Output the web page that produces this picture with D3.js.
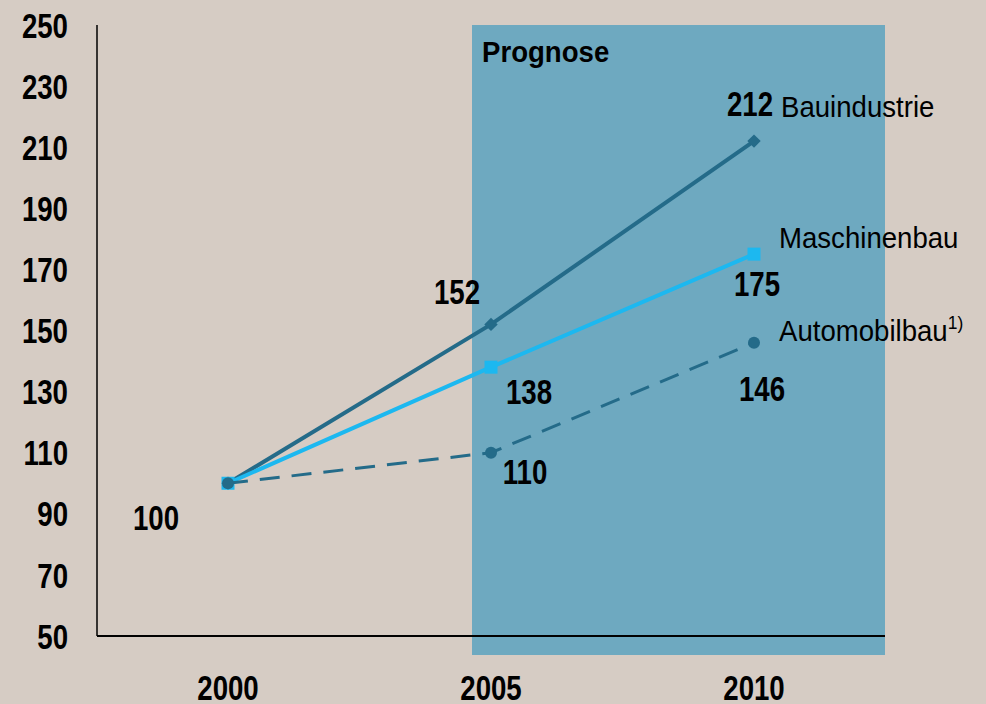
<!DOCTYPE html>
<html>
<head>
<meta charset="utf-8">
<script src="https://cdn.jsdelivr.net/npm/d3@7"></script>
<style>
  body { margin: 0; background: #d6ccc4; }
  svg { display: block; }
  .num { font-family: "Liberation Sans", Arial, sans-serif; font-weight: bold; font-size: 35px; fill: #000; }
  .lbl { font-family: "Liberation Sans", Arial, sans-serif; font-size: 30px; fill: #000; }
</style>
</head>
<body>
<div id="chart"></div>
<script>
// data
var years = [2000, 2005, 2010];
var yTicks = [50, 70, 90, 110, 130, 150, 170, 190, 210, 230, 250];
var bauindustrie = [100, 152, 212];
var maschinenbau = [100, 138, 175];
var automobilbau = [100, 110, 146];
var prognoseRange = [2005, 2010];

var svgWidth = 986;
var svgHeight = 704;

// the original uses a narrow font, so squeeze the text horizontally
var numSqueeze = 0.79;
var lblSqueeze = 0.92;

var svg = d3.select("#chart")
  .append("svg")
  .attr("width", svgWidth)
  .attr("height", svgHeight);

svg.append("rect")
  .attr("width", svgWidth)
  .attr("height", svgHeight)
  .attr("fill", "#d6ccc4");

// scales
var xScale = d3.scaleLinear()
  .domain([2000, 2010])
  .range([228, 754]);

var yScale = d3.scaleLinear()
  .domain([50, 250])
  .range([636, 25]);

var axisLeftX = 97;
var axisRightX = 885;

function placeText(sel, x, y, k) {
  return sel.attr("transform", `translate(${x},${y}) scale(${k},1)`);
}

// forecast shaded area
svg.append("rect")
  .attr("x", xScale(prognoseRange[0]) - 19)
  .attr("y", yScale(250))
  .attr("width", axisRightX - (xScale(prognoseRange[0]) - 19))
  .attr("height", 655 - yScale(250))
  .attr("fill", "#6ea9c0");

placeText(svg.append("text")
  .attr("font-family", "Liberation Sans, Arial, sans-serif")
  .attr("font-weight", "bold")
  .attr("font-size", 30)
  .text("Prognose"), 482, 62, lblSqueeze);

// axes lines
svg.append("line")
  .attr("x1", axisLeftX).attr("x2", axisLeftX)
  .attr("y1", yScale(250)).attr("y2", yScale(50))
  .attr("stroke", "#000").attr("stroke-width", 1.5);

svg.append("line")
  .attr("x1", axisLeftX).attr("x2", axisRightX)
  .attr("y1", yScale(50)).attr("y2", yScale(50))
  .attr("stroke", "#000").attr("stroke-width", 2);

// y tick labels
svg.selectAll(".ytick")
  .data(yTicks)
  .enter()
  .append("text")
  .attr("class", "num")
  .attr("transform", d => `translate(68,${yScale(d)}) scale(${numSqueeze},1)`)
  .attr("dy", "0.36em")
  .attr("text-anchor", "end")
  .text(d => d);

// x tick labels
svg.selectAll(".xtick")
  .data(years)
  .enter()
  .append("text")
  .attr("class", "num")
  .attr("transform", d => `translate(${xScale(d)},700) scale(${numSqueeze},1)`)
  .attr("text-anchor", "middle")
  .text(d => d);

var line = d3.line()
  .x((d, i) => xScale(years[i]))
  .y(d => yScale(d));

// Bauindustrie
svg.append("path")
  .attr("d", line(bauindustrie))
  .attr("fill", "none")
  .attr("stroke", "#246b89")
  .attr("stroke-width", 4);

svg.selectAll(".bau")
  .data(bauindustrie)
  .enter()
  .append("path")
  .attr("d", d3.symbol().type(d3.symbolSquare).size(90))
  .attr("transform", (d, i) => `translate(${xScale(years[i])},${yScale(d)}) rotate(45)`)
  .attr("fill", "#246b89");

// Maschinenbau
svg.append("path")
  .attr("d", line(maschinenbau))
  .attr("fill", "none")
  .attr("stroke", "#1cb8f0")
  .attr("stroke-width", 4);

svg.selectAll(".masch")
  .data(maschinenbau)
  .enter()
  .append("rect")
  .attr("x", (d, i) => xScale(years[i]) - 6.5)
  .attr("y", d => yScale(d) - 6.5)
  .attr("width", 13)
  .attr("height", 13)
  .attr("fill", "#1cb8f0");

// Automobilbau
svg.append("path")
  .attr("d", line(automobilbau))
  .attr("fill", "none")
  .attr("stroke", "#246b89")
  .attr("stroke-width", 3)
  .attr("stroke-dasharray", "20,12");

svg.selectAll(".auto")
  .data(automobilbau)
  .enter()
  .append("circle")
  .attr("cx", (d, i) => xScale(years[i]))
  .attr("cy", d => yScale(d))
  .attr("r", 6)
  .attr("fill", "#246b89");

// value labels
function valueLabel(v, year, dx, dy) {
  placeText(svg.append("text")
    .attr("class", "num")
    .attr("text-anchor", "middle")
    .attr("dy", "0.36em")
    .text(v), xScale(year) + dx, yScale(v) + dy, numSqueeze);
}
valueLabel(automobilbau[0], 2000, -72, 34);
valueLabel(bauindustrie[1], 2005, -34, -33);
valueLabel(maschinenbau[1], 2005, 38, 24);
valueLabel(automobilbau[1], 2005, 34, 19);
valueLabel(bauindustrie[2], 2010, -4, -38);
valueLabel(maschinenbau[2], 2010, 3, 29);
valueLabel(automobilbau[2], 2010, 8, 46);

// series names
placeText(svg.append("text")
  .attr("class", "lbl")
  .text("Bauindustrie"), 781, 117, lblSqueeze);

placeText(svg.append("text")
  .attr("class", "lbl")
  .text("Maschinenbau"), 779, 248, lblSqueeze);

var autoLbl = placeText(svg.append("text")
  .attr("class", "lbl")
  .text("Automobilbau"), 779, 341, lblSqueeze);
autoLbl.append("tspan")
  .attr("font-size", 19)
  .attr("dy", -12)
  .text("1)");
</script>
</body>
</html>
